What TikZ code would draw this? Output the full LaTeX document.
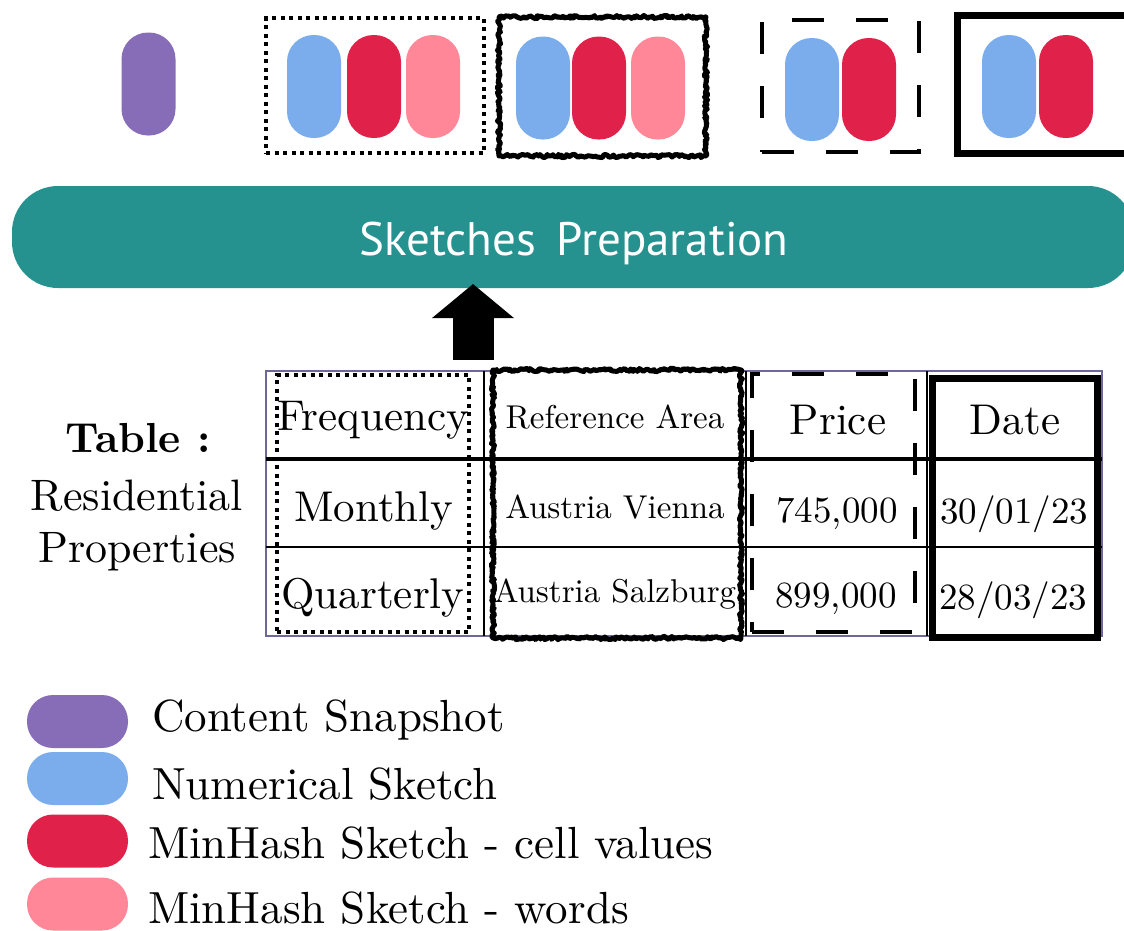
\documentclass[tikz,border=0pt]{standalone}
\usepackage{fontspec}
\setmainfont{lmroman10-regular.otf}[BoldFont=lmroman10-bold.otf]
\newfontfamily\sansf{PT Sans}
\usetikzlibrary{decorations.pathmorphing,arrows.meta}
\definecolor{cpurple}{HTML}{876DB8}
\definecolor{cblue}{HTML}{7BADEC}
\definecolor{cred}{HTML}{E0224A}
\definecolor{cpink}{HTML}{FF8797}
\definecolor{cteal}{HTML}{25928F}
\definecolor{tgray}{HTML}{6E6898}
\begin{document}
\begin{tikzpicture}[x=1pt,y=-1pt,
  vpill/.style={rectangle, rounded corners=26.5pt, minimum width=54pt, minimum height=103pt, inner sep=0pt},
  hpill/.style={rectangle, rounded corners=26pt, minimum width=101pt, minimum height=53pt, inner sep=0pt},
  boxbase/.style={rectangle, inner sep=0pt, draw=black},
  dotbox/.style={boxbase, line width=4pt, dash pattern=on 4pt off 4.5pt},
  roughbox/.style={boxbase, line width=5pt, line join=round, decorate, decoration={random steps, segment length=1.8pt, amplitude=1.6pt}},
  dashbox/.style={boxbase, line width=4.5pt, dash pattern=on 32pt off 32pt},
  solidbox/.style={boxbase, line width=7pt},
  cell/.style={inner sep=0pt, font=\fontsize{43}{50}\selectfont},
  numcell/.style={inner sep=0pt, font=\fontsize{37}{44}\selectfont},
  smallcell/.style={inner sep=0pt, font=\fontsize{33}{38}\selectfont},
  side/.style={inner sep=0pt, font=\fontsize{44}{50}\selectfont},
  legend/.style={inner sep=0pt, anchor=west, font=\fontsize{45}{50}\selectfont},
]
\useasboundingbox (0,0) rectangle (1124,930);
\pgfmathsetseed{7}

% top sketches
\node[vpill, fill=cpurple] (snap) at (148.5,84) {};

\node[dotbox, minimum width=218, minimum height=135] (b1) at (375,85.5) {};
\node[vpill, fill=cblue] (b1n) at (314,86.5) {};
\node[vpill, fill=cred]  (b1c) at (374,86.5) {};
\node[vpill, fill=cpink] (b1w) at (433,86.5) {};

\node[roughbox, minimum width=207, minimum height=139] (b2) at (602.5,86.5) {};
\node[vpill, fill=cblue] (b2n) at (543,88) {};
\node[vpill, fill=cred]  (b2c) at (599,88) {};
\node[vpill, fill=cpink] (b2w) at (658,88) {};

\node[dashbox, minimum width=157, minimum height=132] (b3) at (840.5,86) {};
\node[vpill, fill=cblue] (b3n) at (812,89.5) {};
\node[vpill, fill=cred]  (b3c) at (869,89.5) {};

\node[solidbox, minimum width=178, minimum height=138] (b4) at (1046,84.5) {};
\node[vpill, fill=cblue] (b4n) at (1009,86.5) {};
\node[vpill, fill=cred]  (b4c) at (1066,86.5) {};

% preparation bar
\node[rectangle, fill=cteal, rounded corners=46pt, minimum width=1122, minimum height=102, inner sep=0pt] (prep) at (573,237) {};
\node[inner sep=0pt, text=white, font=\sansf\fontsize{47}{52}\selectfont] (preptext) at (574,243) {Sketches\ \,Preparation};

% arrow
\coordinate (arrowfoot) at (473,360);
\coordinate (arrowtip) at (473,284);
\draw[line width=41pt, -{Triangle[width=80pt,length=34pt]}] (arrowfoot) -- (arrowtip);

% table
\node[rectangle, draw=tgray, line width=1.5pt, minimum width=836, minimum height=265, inner sep=0pt] (tab) at (684,503.5) {};
\coordinate (r1w) at (266,459); \coordinate (r1e) at (1102,459);
\coordinate (r2w) at (266,547); \coordinate (r2e) at (1102,547);
\draw[line width=3.5pt] (r1w) -- (r1e);
\draw[line width=2.2pt] (r2w) -- (r2e);
\coordinate (c1n) at (484,371); \coordinate (c1s) at (484,636);
\coordinate (c2n) at (746,371); \coordinate (c2s) at (746,636);
\coordinate (c3n) at (927,371); \coordinate (c3s) at (927,636);
\draw[line width=2.2pt] (c1n) -- (c1s);
\draw[line width=2.2pt] (c2n) -- (c2s);
\draw[line width=2.2pt] (c3n) -- (c3s);

\node[dotbox, minimum width=192, minimum height=257] (t1) at (373,503.5) {};
\node[roughbox, minimum width=248, minimum height=268] (t2) at (617,504) {};
\node[dashbox, minimum width=163, minimum height=258] (t3) at (833.5,503) {};
\node[solidbox, minimum width=165, minimum height=259] (t4) at (1014.5,507.5) {};

\node[cell] (h1) at (373,420) {Frequency};
\node[smallcell] (h2) at (615,417) {Reference Area};
\node[cell] (h3) at (838,420) {Price};
\node[cell] (h4) at (1015,420) {Date};
\node[cell] (a1) at (374,511) {Monthly};
\node[smallcell] (a2) at (615,507) {Austria Vienna};
\node[numcell] (a3) at (837,514) {745,000};
\node[numcell] (a4) at (1014,514) {30/01/23};
\node[cell] (q1) at (373,598) {Quarterly};
\node[smallcell] (q2) at (615,594) {Austria Salzburg};
\node[numcell] (q3) at (836,599) {899,000};
\node[numcell] (q4) at (1013,600) {28/03/23};

\node[side, font=\fontsize{42}{48}\selectfont\bfseries] (tl1) at (138,438) {Table :};
\node[side] (tl2) at (137,496) {Residential};
\node[side] (tl3) at (137,552) {Properties};

% legend
\node[hpill, fill=cpurple] (l1) at (77.5,721.5) {};
\node[hpill, fill=cblue] (l2) at (77.5,778.5) {};
\node[hpill, fill=cred] (l3) at (77.5,841) {};
\node[hpill, fill=cpink] (l4) at (77.5,904) {};
\node[legend] (lt1) at (152,720) {Content Snapshot};
\node[legend] (lt2) at (152,784) {Numerical Sketch};
\node[legend] (lt3) at (148,843) {MinHash Sketch - cell values};
\node[legend] (lt4) at (148,908) {MinHash Sketch - words};
\end{tikzpicture}
\end{document}
